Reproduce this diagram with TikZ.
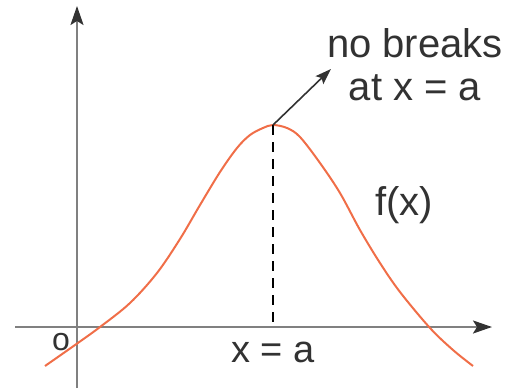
\documentclass[tikz,border=0pt]{standalone}
\usepackage{fontspec}
\setmainfont{Liberation Sans}
\usetikzlibrary{arrows.meta}
\definecolor{curveorange}{RGB}{240,110,72}
\definecolor{axisgray}{RGB}{128,128,128}
\definecolor{inkdark}{RGB}{50,50,50}
\begin{document}
\begin{tikzpicture}[x=1pt, y=-1pt,
  axisline/.style={draw=axisgray, line width=2.2pt, -{Stealth[length=19pt, width=13pt, inset=4pt, color=inkdark]}},
  labeltext/.style={inner sep=0pt, text=inkdark, font=\fontsize{38}{43}\selectfont}]
\useasboundingbox (0,0) rectangle (511,388);
% axes
\coordinate (xstart) at (15,327);
\coordinate (xend) at (492,327);
\coordinate (ystart) at (77,388);
\coordinate (yend) at (77,6);
\draw[axisline] (xstart) -- (xend);
\draw[axisline] (ystart) -- (yend);
% the curve
\draw[curveorange, line width=2pt] plot[smooth, tension=0.55] coordinates {(45,366) (75,345) (100,327) (130,303) (157,273) (180,239) (200,205) (220,172) (237,148) (250,135) (263,128) (273,125) (287,128) (300,137) (320,163) (340,193) (360,230) (380,263) (400,292) (430,328) (453,350) (473,366)};
\coordinate (peak) at (273,125);
\coordinate (foot) at (273,327);
\coordinate (tip) at (331,69);
\draw[black, line width=1.5pt, dash pattern=on 10pt off 7pt] (peak) -- (foot);
\draw[inkdark, line width=1.6pt, -{Stealth[length=16pt, width=11pt, inset=3pt]}] (peak) -- (tip);
% labels
\node[labeltext, align=center, anchor=north, font=\fontsize{40}{43}\selectfont] (note) at (415,28) {no breaks\\at x = a};
\node[labeltext, anchor=base] (xa) at (273,362) {x = a};
\node[labeltext, anchor=base, font=\fontsize{40}{43}\selectfont] (fx) at (404,215) {f(x)};
\node[labeltext, anchor=base, font=\fontsize{32}{36}\selectfont] (origin) at (61,350) {o};
\end{tikzpicture}
\end{document}
